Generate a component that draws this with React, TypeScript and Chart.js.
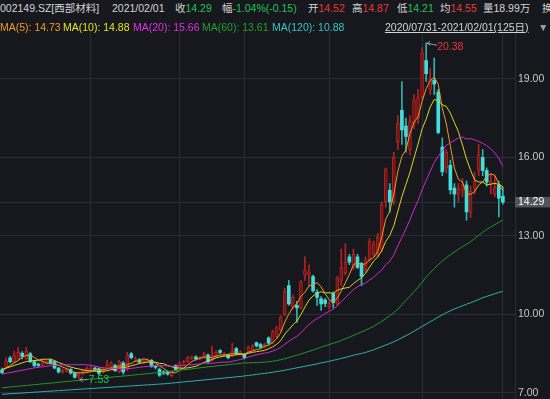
import React, { useEffect, useRef } from 'react';
import { Chart, registerables } from 'chart.js';

Chart.register(...registerables);

// ---- data ----
const OPEN = [7.88, 7.98, 8.34, 8.20, 8.30, 8.52, 8.30, 8.50, 8.20, 8.10,
  8.05, 8.15, 8.25, 8.20, 7.95, 7.80, 7.82, 7.90, 7.78, 7.65,
  7.75, 7.80, 7.90, 7.95, 7.93, 7.80, 7.95, 8.00, 8.05, 7.80,
  8.15, 7.90, 8.50, 8.25, 8.27, 8.15, 8.20, 8.25, 8.02, 7.90,
  7.82, 7.80, 7.66, 8.05, 7.95, 8.15, 8.20, 8.32, 8.38, 8.30,
  8.35, 8.45, 8.25, 8.40, 8.62, 8.45, 8.45, 8.40, 8.70, 8.50,
  8.48, 8.55, 8.65, 8.92, 8.85, 8.75, 9.10, 8.90, 9.15, 9.40,
  9.98, 11.10, 10.30, 10.35, 10.25, 11.50, 11.50, 11.45, 10.85, 10.60,
  10.55, 10.28, 10.80, 10.40, 11.30, 11.60, 12.20, 11.80, 12.20, 11.95,
  11.70, 12.10, 12.30, 12.30, 12.50, 14.30, 14.75, 14.30, 16.60, 17.80,
  17.20, 16.30, 17.30, 17.50, 18.30, 19.70, 18.60, 18.95, 18.50, 16.40,
  15.60, 15.70, 14.83, 14.60, 14.75, 14.95, 13.90, 14.80, 15.50, 16.00,
  15.50, 14.95, 14.60, 14.95, 14.52];

const HIGH = [7.95, 8.34, 8.40, 8.60, 8.75, 8.58, 8.75, 8.55, 8.25, 8.15,
  8.28, 8.25, 8.30, 8.22, 7.98, 7.92, 7.95, 7.93, 7.80, 7.80,
  7.90, 8.00, 8.02, 8.00, 7.96, 7.95, 8.25, 8.20, 8.10, 8.25,
  8.20, 8.55, 8.55, 8.38, 8.32, 8.30, 8.32, 8.28, 8.05, 7.95,
  7.85, 7.85, 7.85, 8.08, 8.20, 8.25, 8.40, 8.42, 8.42, 8.40,
  8.55, 8.50, 8.78, 8.62, 8.66, 8.55, 8.48, 8.90, 8.74, 8.62,
  8.52, 8.80, 8.85, 8.95, 8.90, 8.90, 9.15, 9.40, 9.55, 9.95,
  11.00, 11.30, 10.75, 10.50, 11.30, 12.20, 11.90, 11.50, 10.95, 10.68,
  10.62, 10.50, 10.86, 11.45, 12.50, 12.70, 12.30, 12.50, 12.30, 12.00,
  12.20, 12.90, 12.80, 13.10, 14.30, 15.60, 15.00, 16.20, 17.60, 18.90,
  17.50, 17.60, 18.40, 18.60, 20.20, 20.38, 19.40, 19.80, 18.60, 16.75,
  16.30, 15.90, 15.00, 15.00, 15.20, 15.10, 14.90, 15.45, 16.50, 16.30,
  15.60, 15.40, 15.30, 15.10, 14.87];

const LOW = [7.74, 7.95, 8.15, 8.15, 8.25, 8.30, 8.28, 8.15, 8.00, 8.00,
  8.02, 8.10, 8.10, 7.92, 7.76, 7.75, 7.80, 7.72, 7.56, 7.53,
  7.70, 7.78, 7.85, 7.85, 7.70, 7.76, 7.92, 7.98, 7.82, 7.78,
  7.72, 7.85, 8.30, 8.20, 8.12, 8.12, 8.18, 7.98, 7.92, 7.63,
  7.70, 7.68, 7.62, 7.85, 7.92, 8.10, 8.18, 8.28, 8.25, 8.26,
  8.32, 8.15, 8.22, 8.38, 8.50, 8.42, 8.30, 8.38, 8.45, 8.45,
  8.30, 8.50, 8.62, 8.75, 8.70, 8.72, 8.85, 8.88, 9.10, 9.35,
  9.95, 10.35, 10.20, 9.70, 10.20, 11.30, 11.10, 10.85, 10.35, 10.15,
  10.30, 10.20, 10.25, 10.35, 11.10, 11.50, 11.90, 11.70, 11.75, 11.10,
  11.60, 12.00, 12.20, 12.20, 12.40, 14.10, 13.90, 14.20, 16.30, 16.50,
  16.20, 16.10, 17.10, 17.30, 18.20, 18.90, 18.40, 18.40, 16.90, 15.30,
  15.40, 14.60, 14.10, 14.30, 14.50, 13.60, 13.70, 14.60, 15.30, 15.30,
  14.90, 14.60, 14.50, 13.73, 14.21];

const CLOSE = [7.78, 8.23, 8.19, 8.45, 8.55, 8.40, 8.60, 8.20, 8.05, 8.05,
  8.20, 8.20, 8.15, 7.95, 7.80, 7.86, 7.90, 7.76, 7.60, 7.75,
  7.85, 7.95, 7.95, 7.90, 7.75, 7.90, 8.08, 8.15, 7.85, 8.20,
  7.80, 8.45, 8.35, 8.30, 8.18, 8.25, 8.27, 8.02, 7.98, 7.68,
  7.76, 7.72, 7.80, 7.90, 8.15, 8.20, 8.35, 8.38, 8.30, 8.35,
  8.50, 8.20, 8.45, 8.55, 8.55, 8.50, 8.35, 8.60, 8.50, 8.58,
  8.35, 8.75, 8.80, 8.80, 8.75, 8.85, 8.90, 9.35, 9.50, 9.90,
  10.90, 10.40, 10.65, 10.25, 11.25, 11.70, 11.62, 10.90, 10.65, 10.40,
  10.42, 10.42, 10.45, 11.40, 11.80, 12.00, 12.00, 12.30, 11.80, 11.45,
  12.10, 12.80, 12.70, 12.95, 14.20, 15.55, 14.30, 16.00, 17.30, 17.05,
  16.80, 17.40, 18.20, 18.30, 20.00, 19.20, 19.00, 18.80, 16.95, 15.45,
  16.20, 14.76, 14.60, 14.80, 14.95, 13.92, 14.70, 15.10, 16.10, 15.50,
  15.06, 15.10, 14.85, 14.44, 14.29];

const MA5 = [7.85, 7.95, 8.05, 8.15, 8.24, 8.36, 8.44, 8.44, 8.36, 8.26,
  8.22, 8.14, 8.13, 8.11, 8.06, 7.99, 7.93, 7.85, 7.78, 7.77,
  7.77, 7.78, 7.82, 7.88, 7.88, 7.89, 7.92, 7.96, 7.95, 8.04,
  8.02, 8.09, 8.13, 8.22, 8.22, 8.31, 8.27, 8.20, 8.14, 8.04,
  7.94, 7.83, 7.79, 7.77, 7.87, 7.95, 8.08, 8.20, 8.28, 8.32,
  8.38, 8.35, 8.36, 8.41, 8.45, 8.45, 8.48, 8.51, 8.50, 8.51,
  8.48, 8.56, 8.60, 8.66, 8.69, 8.79, 8.82, 8.93, 9.07, 9.30,
  9.71, 10.01, 10.27, 10.42, 10.69, 10.85, 11.09, 11.14, 11.22, 11.05,
  10.80, 10.56, 10.47, 10.62, 10.90, 11.21, 11.53, 11.90, 11.98, 11.91,
  11.93, 12.09, 12.17, 12.40, 12.95, 13.64, 13.94, 14.60, 15.47, 16.04,
  16.29, 16.91, 17.35, 17.55, 18.14, 18.62, 18.94, 19.06, 18.79, 17.88,
  17.28, 16.43, 15.59, 15.16, 15.06, 14.61, 14.59, 14.69, 14.95, 15.06,
  15.29, 15.37, 15.32, 14.99, 14.73];

const MA10 = [7.90, 7.95, 8.00, 8.05, 8.10, 8.15, 8.20, 8.22, 8.24, 8.25,
  8.29, 8.29, 8.29, 8.24, 8.16, 8.11, 8.04, 7.99, 7.95, 7.92,
  7.88, 7.86, 7.84, 7.83, 7.83, 7.83, 7.85, 7.89, 7.91, 7.96,
  7.95, 8.00, 8.04, 8.08, 8.13, 8.16, 8.18, 8.17, 8.18, 8.13,
  8.12, 8.05, 8.00, 7.96, 7.95, 7.95, 7.96, 7.99, 8.02, 8.09,
  8.17, 8.21, 8.28, 8.34, 8.38, 8.41, 8.41, 8.44, 8.46, 8.48,
  8.46, 8.52, 8.55, 8.58, 8.60, 8.63, 8.69, 8.76, 8.86, 9.00,
  9.25, 9.42, 9.60, 9.75, 10.00, 10.28, 10.55, 10.71, 10.82, 10.87,
  10.82, 10.83, 10.81, 10.92, 10.98, 11.01, 11.04, 11.18, 11.30, 11.40,
  11.57, 11.81, 12.04, 12.19, 12.43, 12.79, 13.02, 13.39, 13.94, 14.50,
  14.97, 15.43, 15.98, 16.51, 17.09, 17.46, 17.93, 18.21, 18.17, 18.01,
  17.95, 17.69, 17.33, 16.98, 16.47, 15.94, 15.51, 15.14, 15.06, 15.06,
  14.95, 14.98, 15.01, 14.97, 14.88];

const MA20 = [7.72, 7.75, 7.78, 7.81, 7.84, 7.87, 7.90, 7.93, 7.96, 7.98,
  8.00, 8.02, 8.04, 8.05, 8.06, 8.07, 8.08, 8.08, 8.08, 8.08,
  8.09, 8.07, 8.06, 8.03, 7.99, 7.97, 7.94, 7.94, 7.93, 7.94,
  7.92, 7.93, 7.94, 7.96, 7.98, 8.00, 8.01, 8.03, 8.05, 8.04,
  8.04, 8.03, 8.02, 8.02, 8.04, 8.05, 8.07, 8.08, 8.10, 8.11,
  8.14, 8.13, 8.14, 8.15, 8.17, 8.18, 8.18, 8.21, 8.24, 8.28,
  8.31, 8.37, 8.42, 8.46, 8.49, 8.52, 8.55, 8.60, 8.66, 8.74,
  8.86, 8.97, 9.08, 9.16, 9.30, 9.46, 9.62, 9.74, 9.84, 9.93,
  10.04, 10.12, 10.20, 10.33, 10.49, 10.64, 10.80, 10.95, 11.06, 11.14,
  11.20, 11.32, 11.42, 11.56, 11.70, 11.90, 12.03, 12.28, 12.62, 12.95,
  13.27, 13.62, 14.01, 14.35, 14.76, 15.12, 15.47, 15.80, 16.05, 16.25,
  16.46, 16.56, 16.65, 16.74, 16.78, 16.70, 16.72, 16.67, 16.61, 16.54,
  16.45, 16.33, 16.17, 15.97, 15.66];

const MA60 = [7.20, 7.21, 7.23, 7.24, 7.26, 7.27, 7.29, 7.30, 7.32, 7.33,
  7.35, 7.36, 7.38, 7.39, 7.41, 7.42, 7.44, 7.45, 7.47, 7.48,
  7.50, 7.51, 7.53, 7.54, 7.56, 7.57, 7.59, 7.60, 7.62, 7.63,
  7.65, 7.66, 7.68, 7.69, 7.71, 7.72, 7.74, 7.75, 7.77, 7.78,
  7.80, 7.82, 7.83, 7.85, 7.87, 7.89, 7.90, 7.92, 7.94, 7.96,
  7.98, 8.00, 8.01, 8.03, 8.05, 8.06, 8.08, 8.10, 8.11, 8.13,
  8.15, 8.15, 8.16, 8.16, 8.17, 8.18, 8.19, 8.21, 8.24, 8.27,
  8.31, 8.35, 8.40, 8.44, 8.49, 8.54, 8.59, 8.64, 8.69, 8.75,
  8.80, 8.85, 8.90, 8.95, 9.01, 9.07, 9.13, 9.20, 9.27, 9.33,
  9.40, 9.47, 9.55, 9.64, 9.74, 9.84, 9.95, 10.07, 10.20, 10.37,
  10.54, 10.70, 10.87, 11.04, 11.23, 11.43, 11.59, 11.75, 11.90, 12.04,
  12.17, 12.28, 12.39, 12.49, 12.59, 12.68, 12.78, 12.90, 13.02, 13.14,
  13.25, 13.34, 13.43, 13.52, 13.61];

const MA120 = [6.95, 6.96, 6.97, 6.98, 6.99, 7.00, 7.01, 7.02, 7.03, 7.04,
  7.05, 7.06, 7.07, 7.08, 7.09, 7.10, 7.11, 7.12, 7.13, 7.14,
  7.15, 7.16, 7.17, 7.18, 7.19, 7.20, 7.21, 7.22, 7.23, 7.24,
  7.25, 7.26, 7.27, 7.28, 7.29, 7.30, 7.31, 7.32, 7.33, 7.34,
  7.35, 7.36, 7.38, 7.39, 7.41, 7.42, 7.44, 7.45, 7.47, 7.48,
  7.50, 7.51, 7.53, 7.54, 7.56, 7.57, 7.59, 7.60, 7.62, 7.63,
  7.65, 7.67, 7.69, 7.71, 7.73, 7.75, 7.77, 7.79, 7.82, 7.84,
  7.87, 7.90, 7.93, 7.96, 7.99, 8.02, 8.05, 8.08, 8.11, 8.15,
  8.18, 8.21, 8.25, 8.28, 8.32, 8.36, 8.40, 8.44, 8.48, 8.51,
  8.55, 8.60, 8.65, 8.71, 8.77, 8.83, 8.89, 8.96, 9.03, 9.11,
  9.19, 9.27, 9.36, 9.45, 9.54, 9.63, 9.72, 9.81, 9.90, 9.98,
  10.07, 10.14, 10.21, 10.27, 10.33, 10.39, 10.45, 10.51, 10.57, 10.64,
  10.69, 10.74, 10.79, 10.84, 10.88];

const Y_TICKS = [7, 10, 13, 16, 19];
const MONTH_STARTS = [22, 44, 60, 81, 104, 124];
const LAST_CLOSE = 14.29;

// ---- styles ----
const BG = '#16181d';
const GRID = '#2a2d33';
const UP = '#b52222';
const UP_FILL = '#6a1414';
const DOWN = '#45dcdc';
const DOWN_WICK = '#2fb3b3';
const FONT = '"Liberation Sans", Arial, "Noto Sans CJK SC", sans-serif';
const TXT = '#d4d4d4';
const RED = '#e83a3a';
const GREEN = '#22c25a';

const annotPlugin = {
  id: 'annot',
  afterDatasetsDraw(chart: any) {
    const { ctx } = chart;
    const x = chart.scales.x;
    const y = chart.scales.y;
    let hi = 0;
    let lo = 0;
    HIGH.forEach((v, i) => { if (v > HIGH[hi]) hi = i; });
    LOW.forEach((v, i) => { if (v < LOW[lo]) lo = i; });
    ctx.save();
    ctx.font = '10.5px ' + FONT;
    ctx.textBaseline = 'middle';
    ctx.strokeStyle = '#9a9a9a';
    ctx.lineWidth = 1;
    // high marker
    const hx = x.getPixelForValue(hi);
    const hy = y.getPixelForValue(HIGH[hi]);
    ctx.beginPath();
    ctx.moveTo(hx + 1, hy + 0.5);
    ctx.lineTo(hx + 11, hy + 2.5);
    ctx.moveTo(hx + 1, hy + 0.5);
    ctx.lineTo(hx + 4, hy - 1.5);
    ctx.moveTo(hx + 1, hy + 0.5);
    ctx.lineTo(hx + 4, hy + 2.5);
    ctx.stroke();
    ctx.fillStyle = RED;
    ctx.fillText(HIGH[hi].toFixed(2), hx + 11, hy + 4);
    // low marker
    const lx = x.getPixelForValue(lo);
    const ly = y.getPixelForValue(LOW[lo]);
    ctx.beginPath();
    ctx.moveTo(lx + 1, ly + 0.5);
    ctx.lineTo(lx + 9, ly + 0.5);
    ctx.moveTo(lx + 1, ly + 0.5);
    ctx.lineTo(lx + 4, ly - 2);
    ctx.moveTo(lx + 1, ly + 0.5);
    ctx.lineTo(lx + 4, ly + 3);
    ctx.stroke();
    ctx.fillStyle = GREEN;
    ctx.fillText(LOW[lo].toFixed(2), lx + 10, ly + 1);
    ctx.restore();
  },
};

function T(props: { x: number; y: number; c?: string; u?: boolean; children: any }) {
  return (
    <span
      style={{
        position: 'absolute',
        left: props.x,
        top: props.y,
        color: props.c || TXT,
        whiteSpace: 'nowrap',
        lineHeight: '16px',
        textDecoration: props.u ? 'underline' : 'none',
      }}
    >
      {props.children}
    </span>
  );
}

export default function App() {
  const ref = useRef<HTMLCanvasElement>(null);

  useEffect(() => {
    if (!ref.current) return;
    const idx = CLOSE.map((_, i) => i);
    const up = idx.map((i) => CLOSE[i] >= OPEN[i]);
    Chart.defaults.font.family = FONT;

    const line = (data: number[], color: string) => ({
      type: 'line' as const,
      data: data.map((v, i) => ({ x: i, y: v })),
      borderColor: color,
      borderWidth: 1,
      pointRadius: 0,
      tension: 0,
      order: 0,
    });

    const chart = new Chart(ref.current, {
      type: 'bar',
      data: {
        datasets: [
          line(MA120, '#2fb0b0'),
          line(MA60, '#1e9a2a'),
          line(MA20, '#d02ad0'),
          line(MA10, '#d8d820'),
          line(MA5, '#f09a28'),
          {
            type: 'bar',
            data: idx.map((i) => ({ x: i, y: [Math.min(OPEN[i], CLOSE[i]), Math.max(OPEN[i], CLOSE[i])] })),
            backgroundColor: idx.map((i) => (up[i] ? UP_FILL : DOWN)),
            borderColor: idx.map((i) => (up[i] ? UP : DOWN)),
            borderWidth: idx.map((i) => (up[i] ? 1 : 0)),
            borderSkipped: false,
            barThickness: 3,
            minBarLength: 1,
            grouped: false,
            order: 1,
          } as any,
          {
            type: 'bar',
            data: idx.map((i) => ({ x: i, y: [LOW[i], HIGH[i]] })),
            backgroundColor: idx.map((i) => (up[i] ? UP : DOWN_WICK)),
            borderWidth: 0,
            barThickness: 1,
            grouped: false,
            order: 2,
          } as any,
        ],
      },
      options: {
        animation: false,
        responsive: true,
        maintainAspectRatio: false,
        layout: { padding: 0 },
        plugins: { legend: { display: false }, tooltip: { enabled: false } },
        scales: {
          x: {
            type: 'linear',
            min: -0.5,
            max: 127,
            offset: false,
            afterBuildTicks: (s: any) => {
              s.ticks = MONTH_STARTS.map((v) => ({ value: v }));
            },
            afterFit: (s: any) => {
              s.height = 0;
              s.paddingLeft = 0;
              s.paddingRight = 0;
            },
            ticks: { display: false },
            grid: { color: GRID, drawTicks: false, offset: false },
            border: { display: false },
          },
          y: {
            type: 'linear',
            position: 'right',
            min: 6.77,
            max: 20.83,
            afterBuildTicks: (s: any) => {
              s.ticks = [...Y_TICKS, LAST_CLOSE].sort((a, b) => a - b).map((v) => ({ value: v }));
            },
            afterFit: (s: any) => {
              s.width = 35;
              s.paddingTop = 0;
              s.paddingBottom = 0;
            },
            ticks: {
              autoSkip: false,
              padding: 3,
              font: { size: 10.5, family: FONT },
              color: (c: any) => (c.tick && c.tick.value === LAST_CLOSE ? '#ffffff' : '#c8c8c8'),
              callback: (v: any) => Number(v).toFixed(2),
              showLabelBackdrop: (c: any) => !!(c.tick && c.tick.value === LAST_CLOSE),
              backdropColor: '#52555c',
              backdropPadding: { top: -1, bottom: -1, left: 3, right: 6 },
            },
            grid: { color: GRID, drawTicks: false },
            border: { display: true, color: GRID },
          },
        },
      } as any,
      plugins: [annotPlugin],
    });
    return () => chart.destroy();
  }, []);

  return (
    <div
      style={{
        position: 'fixed',
        left: 0,
        top: 0,
        width: 550,
        height: 399,
        background: BG,
        overflow: 'hidden',
        fontFamily: FONT,
        fontSize: 10.5,
      }}
    >
      <div style={{ position: 'absolute', left: 0, top: 31, width: 550, height: 368 }}>
        <canvas ref={ref} />
      </div>
      <T x={0} y={0}>002149.SZ[西部材料]</T>
      <T x={112} y={0}>2021/02/01</T>
      <T x={175} y={0}>收<span style={{ color: GREEN }}>14.29</span></T>
      <T x={222} y={0}>幅<span style={{ color: GREEN }}>-1.04%(-0.15)</span></T>
      <T x={308} y={0}>开<span style={{ color: RED }}>14.52</span></T>
      <T x={352} y={0}>高<span style={{ color: RED }}>14.87</span></T>
      <T x={397} y={0}>低<span style={{ color: GREEN }}>14.21</span></T>
      <T x={440} y={0}>均<span style={{ color: RED }}>14.55</span></T>
      <T x={483} y={0}>量18.99万</T>
      <T x={542} y={0}>换</T>
      <T x={0} y={19} c="#f09a28">MA(5): 14.73</T>
      <T x={63} y={19} c="#e4e420">MA(10): 14.88</T>
      <T x={133} y={19} c="#e030e0">MA(20): 15.66</T>
      <T x={202} y={19} c="#22a032">MA(60): 13.61</T>
      <T x={272} y={19} c="#38c4c4">MA(120): 10.88</T>
      <T x={385} y={19} u>2020/07/31-2021/02/01(125日)</T>
      <T x={538} y={19} c="#9a9a9a">▼</T>
    </div>
  );
}
